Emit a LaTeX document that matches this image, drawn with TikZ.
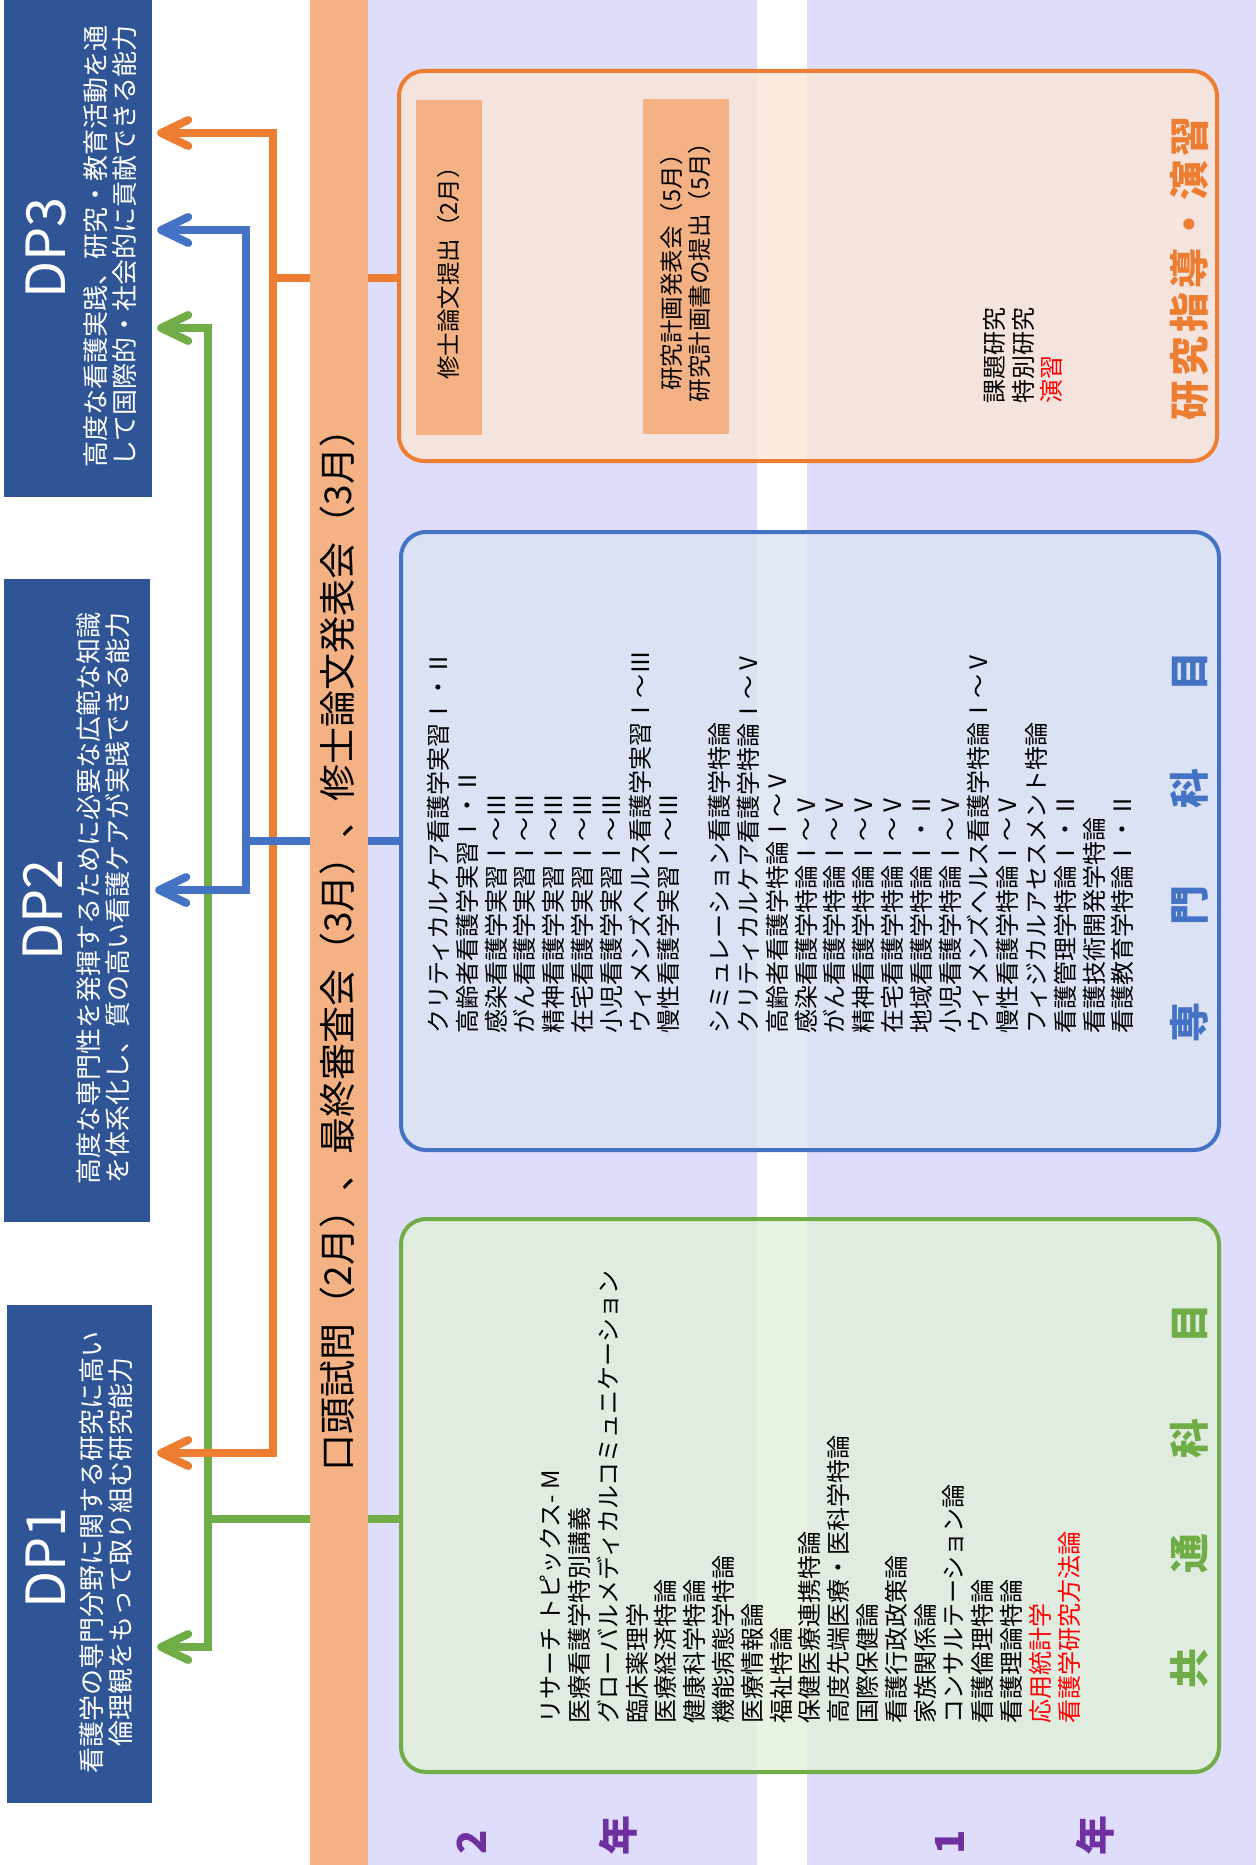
\documentclass[tikz,border=0pt]{standalone}
\usepackage{fontspec}
\setmainfont{Noto Sans CJK JP}
\usetikzlibrary{arrows.meta,positioning}

\definecolor{dpblue}{RGB}{47,85,151}
\definecolor{lineorange}{RGB}{237,125,49}
\definecolor{lineblue}{RGB}{68,114,196}
\definecolor{linegreen}{RGB}{112,173,71}
\definecolor{bandorange}{RGB}{244,177,131}
\definecolor{lavender}{RGB}{222,222,252}
\definecolor{fillorange}{RGB}{251,229,214}
\definecolor{fillblue}{RGB}{218,227,243}
\definecolor{fillgreen}{RGB}{226,240,217}
\definecolor{yearpurple}{RGB}{112,48,160}
\definecolor{notered}{RGB}{255,0,0}

\begin{document}
\begin{tikzpicture}[x=1pt, y=-1pt,
                    every node/.style={inner sep=0pt},
                    link/.style={line width=8pt, shorten >=5pt,
                                 -{Straight Barb[length=27pt, width=26pt, round]}}]
    \tikzstyle{dpbox}=[rectangle, fill=dpblue]
    \tikzstyle{dptitle}=[rotate=90, text=white, font=\fontsize{54}{54}\selectfont]
    \tikzstyle{dptext}=[rotate=90, text=white, align=center, font=\fontsize{26}{29}\selectfont]
    \tikzstyle{groupbox}=[rectangle, rounded corners=25pt, line width=4pt, fill opacity=0.8]
    \tikzstyle{datebox}=[rotate=90, fill=bandorange, align=center, font=\fontsize{23.5}{28}\selectfont]
    \tikzstyle{subjects}=[rotate=90, anchor=north west, align=left, font=\fontsize{24}{28.8}\selectfont]
    \tikzstyle{boxtitle}=[rotate=90, font=\fontsize{40}{40}\selectfont\bfseries]
    \tikzstyle{year}=[rotate=90, text=yearpurple, font=\fontsize{40}{40}\selectfont\bfseries]

    \useasboundingbox (0,0) rectangle (1256,1865);
    \fill[lavender] (368,0) rectangle (757,1865);
    \fill[lavender] (807,0) rectangle (1256,1865);

    % DP
    \node[dpbox, minimum width=148pt, minimum height=497pt] (dp3) at (78,248.5) {};
    \node[dptitle] (dp3title) at (46,248) {DP3};
    \node[dptext] (dp3text) at (110,246) {高度な看護実践、研究・教育活動を通\\して国際的・社会的に貢献できる能力};

    \node[dpbox, minimum width=146pt, minimum height=643pt] (dp2) at (77,900.5) {};
    \node[dptitle] (dp2title) at (43,910) {DP2};
    \node[dptext] (dp2text) at (103,898) {高度な専門性を発揮するために必要な広範な知識\\を体系化し、質の高い看護ケアが実践できる能力};

    \node[dpbox, minimum width=145pt, minimum height=498pt] (dp1) at (79.5,1554) {};
    \node[dptitle] (dp1title) at (46,1558) {DP1};
    \node[dptext] (dp1text) at (106,1552) {看護学の専門分野に関する研究に高い\\倫理観をもって取り組む研究能力};

    % research
    \node[groupbox, draw=lineorange, fill=fillorange, minimum width=818pt, minimum height=390pt] (research) at (808,266) {};
    \node[datebox, minimum width=335pt, minimum height=66pt] (thesis) at (449,267.5) {修士論文提出（2月）};
    \node[datebox, minimum width=335pt, minimum height=86pt] (plan) at (686,266.5) {研究計画発表会（5月）\\研究計画書の提出（5月）};
    \node[subjects] (researchlist) at (983,404) {課題研究\\特別研究\\\textcolor{notered}{演習}};
    \node[boxtitle, text=lineorange] (researchtitle) at (1189,268) {研\hspace{4pt}究\hspace{4pt}指\hspace{4pt}導\hspace{4pt}・\hspace{4pt}演\hspace{4pt}習};

    % special
    \node[groupbox, draw=lineblue, fill=fillblue, minimum width=818pt, minimum height=618pt] (special) at (810,841) {};
    \node[subjects] (speciallist) at (427,1034) {クリティカルケア看護学実習Ⅰ・Ⅱ\\高齢者看護学実習Ⅰ・Ⅱ\\感染看護学実習Ⅰ～Ⅲ\\がん看護学実習Ⅰ～Ⅲ\\精神看護学実習Ⅰ～Ⅲ\\在宅看護学実習Ⅰ～Ⅲ\\小児看護学実習Ⅰ～Ⅲ\\ウィメンズヘルス看護学実習Ⅰ～Ⅲ\\慢性看護学実習Ⅰ～Ⅲ\\[22pt]
        シミュレーション看護学特論\\クリティカルケア看護学特論Ⅰ～Ⅴ\\高齢者看護学特論Ⅰ～Ⅴ\\感染看護学特論Ⅰ～Ⅴ\\がん看護学特論Ⅰ～Ⅴ\\精神看護学特論Ⅰ～Ⅴ\\在宅看護学特論Ⅰ～Ⅴ\\地域看護学特論Ⅰ・Ⅱ\\小児看護学特論Ⅰ～Ⅴ\\ウィメンズヘルス看護学特論Ⅰ～Ⅴ\\慢性看護学特論Ⅰ～Ⅴ\\フィジカルアセスメント特論\\看護管理学特論Ⅰ・Ⅱ\\看護技術開発学特論\\看護教育学特論Ⅰ・Ⅱ};
    \node[boxtitle, text=lineblue] (specialtitle) at (1189,847) {専\hspace{77pt}門\hspace{77pt}科\hspace{77pt}目};

    % common
    \node[groupbox, draw=linegreen, fill=fillgreen, minimum width=818pt, minimum height=553pt] (common) at (810,1495.5) {};
    \node[subjects] (commonlist) at (540,1724) {リサーチ トピックス- M\\医療看護学特別講義\\グローバルメディカルコミュニケーション\\臨床薬理学\\医療経済特論\\健康科学特論\\機能病態学特論\\医療情報論\\福祉特論\\保健医療連携特論\\高度先端医療・医科学特論\\国際保健論\\看護行政政策論\\家族関係論\\コンサルテーション論\\看護倫理特論\\看護理論特論\\\textcolor{notered}{応用統計学}\\\textcolor{notered}{看護学研究方法論}};
    \node[boxtitle, text=linegreen] (commontitle) at (1189,1495.5) {共\hspace{75pt}通\hspace{75pt}科\hspace{75pt}目};

    \node[year] (year2) at (472,1842) {2};
    \node[year] (year2b) at (618,1835) {年};
    \node[year] (year1) at (950,1842) {1};
    \node[year] (year1b) at (1095,1835) {年};

    % links
    \coordinate (gfork) at (207.5,1519);
    \coordinate (ofork) at (272.5,278);
    \coordinate (bfork) at (246,841);
    \draw[link, linegreen] (common.west |- gfork) -- (gfork) |- (dp3.east |- 0,328);
    \draw[link, linegreen] (gfork) |- (dp1.east |- 0,1647);
    \draw[link, lineorange] (research.west |- ofork) -- (ofork) |- (dp3.east |- 0,133);
    \draw[link, lineorange] (ofork) |- (dp1.east |- 0,1453);
    \draw[link, lineblue] (special.west |- bfork) -- (bfork) |- (dp3.east |- 0,230);
    \draw[link, lineblue] (bfork) |- (dp2.east |- 0,890);

    \node[fill=bandorange, minimum width=58pt, minimum height=1865pt] (band) at (339,932.5) {};
    \node[rotate=90, font=\fontsize{37}{37}\selectfont] (exams) at (337,941) {口頭試問（2月）、最終審査会（3月）、修士論文発表会（3月）};
\end{tikzpicture}
\end{document}
